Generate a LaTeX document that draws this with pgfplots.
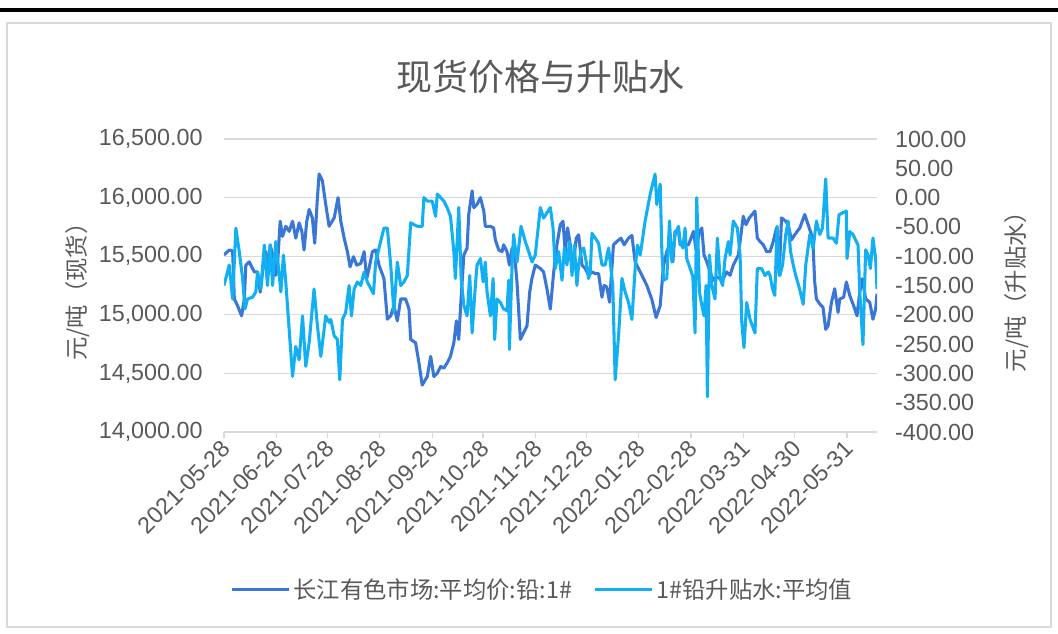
\documentclass[border=0pt]{standalone}
\usepackage{fontspec}
\setmainfont{Liberation Sans}
\newfontfamily\cjk{Noto Sans CJK SC}
\usepackage{pgfplots}
\pgfplotsset{compat=1.18}
\usepackage{pgfplotstable}

\definecolor{leadblue}{HTML}{3A76D6}
\definecolor{basisblue}{HTML}{12B0F2}
\definecolor{gridgray}{HTML}{D9D9D9}
\definecolor{txtgray}{HTML}{595959}

\pgfplotsset{
  numfmt/.style={
    /pgf/number format/fixed,
    /pgf/number format/fixed zerofill,
    /pgf/number format/precision=2,
    /pgf/number format/1000 sep={,},
    /pgf/number format/assume math mode=true}
}

% day = days since 2021-05-28
\pgfplotstableread{
day price
0 15510
3.1 15553
5.1 15545
6.1 15135
8.0 15078
10.4 14991
12.0 15135
12.9 15424
14.9 15452
17.9 15366
19.8 15366
21.4 15193
22.8 15366
24.7 15539
25.7 15366
27.3 15597
28.7 15510
30.6 15337
31.6 15424
33.2 15798
34.6 15669
36.5 15755
38.5 15712
40.5 15798
42.4 15654
44.4 15784
46.0 15712
47.3 15553
48.9 15798
50.3 15899
52.2 15827
53.6 15611
55.2 16000
56.2 16202
58.1 16144
60.1 15942
62.1 15755
65.1 15827
67.4 16000
69.0 15798
71.0 15654
72.9 15539
74.5 15409
76.5 15496
78.4 15424
80.8 15438
82.8 15539
84.3 15308
85.7 15395
87.7 15539
89.6 15553
91.6 15424
94.5 15308
96.5 14962
98.5 14991
100.4 15078
102.4 14948
104.4 15135
107.3 15135
109.3 15049
110.3 14790
113.2 14761
115.2 14588
117.1 14400
120.1 14473
122.1 14645
124.0 14473
126.0 14501
128.0 14559
129.9 14545
131.8 14588
133.8 14645
135.8 14761
137.3 14948
138.7 14790
139.7 15049
141.7 15510
143.6 15568
144.6 15856
146.6 16058
147.6 15914
149.5 15942
151.5 16000
153.5 15885
154.4 15755
157.4 15755
159.3 15741
160.3 15640
162.3 15553
164.3 15539
165.2 15597
167.2 15539
168.6 15424
170.2 15568
171.5 15539
173.1 15280
175.1 14790
177.0 14847
179.0 14905
180.6 15193
181.9 15308
183.9 15424
186.9 15395
188.8 15366
190.8 15222
192.8 15049
194.8 15366
196.7 15597
198.7 15769
200.3 15798
201.6 15539
203.0 15741
204.6 15597
205.6 15424
207.0 15510
208.1 15654
209.5 15683
211.5 15424
213.4 15395
215.4 15337
217.4 15366
219.3 15352
221.3 15352
223.3 15150
224.6 15251
226.2 15236
227.8 15107
230.1 15597
232.1 15625
234.5 15654
236.4 15597
239.0 15654
241.0 15677
242.9 15452
245.9 15366
249.8 15251
252.7 15135
255.3 14977
257.7 15078
259.7 15424
261.6 15539
263.6 15597
265.2 15452
266.5 15712
268.5 15712
269.5 15597
271.5 15597
274.4 15597
277.4 15712
278.9 15553
280.9 15712
282.3 15741
283.6 15510
285.2 15452
287.2 15366
289.1 15294
291.1 15323
293.1 15308
295.0 15308
297.0 15366
299.0 15337
300.9 15424
303.9 15510
304.9 15625
306.8 15841
308.4 15769
310.4 15827
313.7 15885
315.1 15654
316.7 15625
318.6 15597
320.6 15539
322.6 15539
324.5 15625
326.4 15741
328.0 15337
329.4 15827
331.9 15798
333.3 15769
335.3 15640
337.2 15683
340.2 15741
343.1 15856
345.1 15769
347.1 15683
348.1 15568
349.0 15280
350.0 15135
352.0 15092
353.9 15063
355.5 14876
356.9 14905
358.9 15107
360.8 15222
362.8 15020
363.8 15135
366.1 15150
367.7 15280
369.7 15164
372.0 15078
374.0 14991
375.6 15193
377.1 15308
379.1 15135
381.5 15107
383.4 14962
385.0 15049
385.8 15179
}\pricetab

\pgfplotstableread{
day basis
0 -150
3.1 -115
5.1 -173
7.0 -52
9.0 -92
11.0 -138
12.4 -190
13.9 -173
16.9 -170
18.8 -161
19.8 -127
21.8 -156
23.8 -81
25.7 -150
27.3 -81
28.7 -150
30.6 -75
32.0 -115
33.6 -161
35.1 -98
36.5 -144
38.5 -225
40.5 -305
42.4 -254
44.4 -277
46.4 -202
48.3 -288
50.3 -248
53.2 -156
55.2 -219
57.2 -271
60.1 -202
62.1 -213
63.1 -208
65.1 -236
67.0 -242
68.4 -311
70.0 -208
71.9 -196
73.9 -150
75.3 -202
76.9 -156
78.8 -144
80.8 -150
82.8 -127
84.7 -144
88.3 -164
89.6 -110
91.6 -86
94.5 -52
96.5 -52
98.5 -115
100.4 -196
102.4 -110
104.4 -150
106.3 -144
108.3 -133
110.3 -43
112.2 -46
114.2 -49
117.1 -49
118.1 0
120.1 -6
123.0 -6
125.0 -32
126.0 6
128.0 0
129.9 -6
131.8 -17
133.8 -32
135.8 -92
136.7 -138
138.7 -17
140.1 -138
141.7 -184
143.6 -202
145.2 -133
146.6 -231
148.5 -150
149.5 -115
151.5 -104
153.1 -144
154.4 -110
155.4 -161
157.4 -202
159.0 -138
159.9 -242
161.3 -173
163.3 -179
165.2 -190
167.2 -193
168.2 -141
168.6 -259
170.2 -115
171.1 -63
173.1 -110
174.1 -86
175.5 -49
178.0 -75
180.0 -92
182.0 -110
183.9 -98
186.9 -17
188.8 -35
190.8 -26
192.8 -17
194.4 -52
195.7 -121
197.7 -92
199.7 -141
201.1 -86
202.6 -115
204.2 -75
205.6 -133
207.0 -81
208.5 -150
209.5 -115
210.9 -92
212.5 -86
214.0 -110
215.4 -138
216.4 -127
217.4 -61
219.3 -69
221.3 -78
223.3 -115
225.2 -115
227.2 -86
228.2 -110
229.7 -150
231.1 -311
233.1 -236
235.1 -138
237.0 -161
239.0 -179
241.0 -208
242.9 -121
244.3 -81
245.9 -98
248.8 -40
251.8 6
254.7 40
255.7 -12
257.7 23
258.7 -92
259.7 -141
261.6 -138
263.2 -40
264.6 -110
266.5 -63
268.5 -49
269.5 -75
271.1 -86
272.4 -52
273.4 -104
275.4 -121
277.0 -135
278.3 -231
279.3 0
280.9 -161
282.3 -184
283.6 -202
284.8 -150
285.6 -340
286.8 -98
288.2 -150
290.1 -173
291.5 -69
293.1 -138
294.6 -150
296.0 -104
298.0 -75
299.0 -98
300.9 -40
303.3 -52
304.9 -98
305.9 -213
307.2 -256
308.8 -179
310.8 -208
313.7 -231
315.1 -121
317.6 -121
319.6 -133
321.6 -127
322.6 -133
324.1 -156
325.4 -167
326.8 -49
328.4 -133
330.0 -115
331.9 -63
333.3 -40
334.7 -92
336.3 -115
337.8 -133
339.8 -153
342.2 -182
343.7 -115
346.1 -63
348.1 -86
350.0 -40
352.0 -63
353.6 -52
355.5 32
356.9 -69
359.8 -69
361.8 -78
363.4 -29
367.7 -23
368.1 -104
369.7 -58
371.6 -63
374.6 -81
375.6 -161
377.5 -251
379.1 -89
380.5 -98
381.9 -121
383.4 -69
385.0 -104
385.8 -156
}\basistab

\begin{document}
\begin{tikzpicture}
\useasboundingbox (0,0) rectangle (793.5pt,475.5pt);
\fill[black] (0,466.5pt) rectangle (793.5pt,469.5pt);
\draw[gridgray, line width=1pt] (5.25pt,5.25pt) rectangle (788.25pt,458.25pt);

\node[txtgray, font=\cjk\fontsize{27}{30}\selectfont] at (405pt,417.75pt) {现货价格与升贴水};
\node[txtgray, rotate=90, font=\cjk\fontsize{17.5}{20}\selectfont] at (58pt,261pt) {元/吨（现货）};
\node[txtgray, rotate=90, font=\cjk\fontsize{17.5}{20}\selectfont] at (762.75pt,261pt) {元/吨（升贴水）};

\begin{axis}[
  at={(168pt,151.5pt)}, anchor=south west,
  scale only axis, width=489.75pt, height=219.75pt,
  xmin=0, xmax=385.8,
  ymin=14000, ymax=16500,
  ytick={14000,14500,...,16500},
  scaled y ticks=false,
  xtick={0,31,61,92,123,153,184,214,245,276,307,337,368},
  xticklabels={2021-05-28,2021-06-28,2021-07-28,2021-08-28,2021-09-28,2021-10-28,2021-11-28,2021-12-28,2022-01-28,2022-02-28,2022-03-31,2022-04-30,2022-05-31},
  axis x line*=bottom, axis y line*=left,
  y axis line style={draw=none},
  x axis line style={gridgray, line width=1pt},
  ytick style={draw=none},
  xtick style={gridgray, line width=1pt},
  tick align=outside, major tick length=4.5pt,
  ymajorgrids, grid style={gridgray, line width=1pt},
  ticklabel style={txtgray, font=\fontsize{17.5}{20}\selectfont},
  xticklabel style={rotate=45, anchor=east, xshift=1pt, yshift=-5pt},
  yticklabel style={xshift=-8pt, numfmt},
  legend style={at={(0.488,-0.539)}, anchor=center, draw=none, fill=none,
    font=\cjk\fontsize{17.5}{20}\selectfont, text=txtgray,
    legend columns=2, /tikz/every even column/.append style={column sep=14pt}},
  legend cell align=left,
  legend image code/.code={\draw[#1] (0pt,0pt) -- (43pt,0pt);},
]
\addplot[leadblue, line width=2.3pt, line join=round] table[x=day, y=price] {\pricetab};
\addlegendentry{长江有色市场:平均价:铅:1\#}
\addlegendimage{basisblue, line width=2.3pt}
\addlegendentry{1\#铅升贴水:平均值}
\end{axis}

\begin{axis}[
  at={(168pt,151.5pt)}, anchor=south west,
  scale only axis, width=489.75pt, height=219.75pt,
  xmin=0, xmax=385.8,
  ymin=-400, ymax=100,
  ytick={-400,-350,...,100},
  axis x line=none, axis y line*=right,
  y axis line style={draw=none},
  ytick style={draw=none},
  ticklabel style={txtgray, font=\fontsize{17.5}{20}\selectfont},
  yticklabel style={xshift=10pt, numfmt},
]
\addplot[basisblue, line width=2.3pt, line join=round] table[x=day, y=basis] {\basistab};
\end{axis}
\end{tikzpicture}
\end{document}
